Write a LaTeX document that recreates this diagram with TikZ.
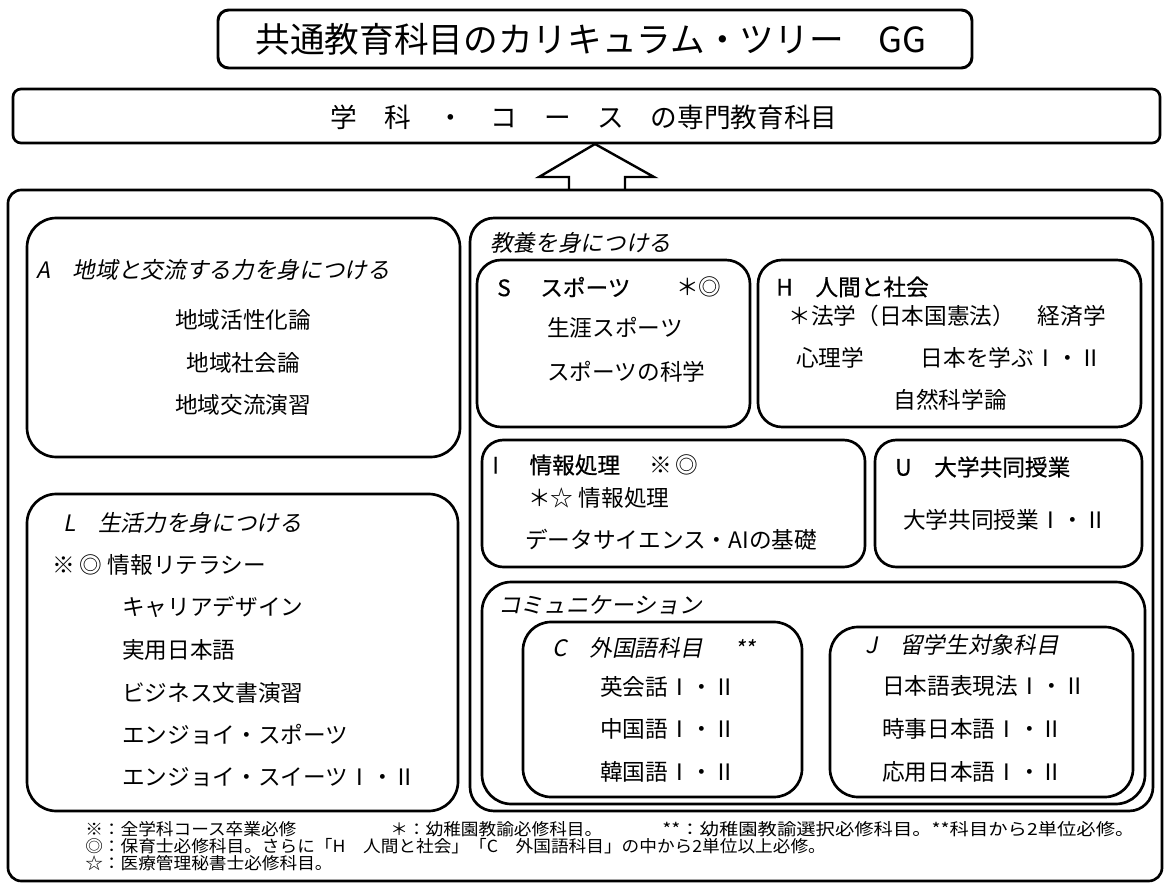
\documentclass[tikz,border=0pt]{standalone}
\usepackage{fontspec}
\setmainfont{Noto Sans CJK JP}
\newfontfamily\jpit[FakeSlant=0.2]{Noto Sans CJK JP}
\newfontfamily\jphd[FakeBold=0.6]{Noto Sans CJK JP}
\newfontfamily\jpnote[FakeStretch=1.06]{Noto Sans CJK JP}
\newfontfamily\jpnotew[FakeStretch=1.16]{Noto Sans CJK JP}

\tikzset{
  roundbox/.style={line width=2pt, rounded corners=#1},
  roundbox/.default=18pt,
  item/.style={inner sep=0pt, font=\fontsize{17}{20}\selectfont},
  itemw/.style={item, anchor=west},
  head/.style={inner sep=0pt, anchor=west, font=\jphd\fontsize{17}{20}\selectfont},
  slanted/.style={inner sep=0pt, anchor=west, font=\jpit\fontsize{17}{20}\selectfont},
  note/.style={inner sep=0pt, anchor=west, font=\jpnote\fontsize{12.5}{15}\selectfont}
}

\begin{document}
\begin{tikzpicture}[x=0.75pt, y=-0.75pt]
  \useasboundingbox (0,0) rectangle (1166,884);

  % title and the course box
  \draw[roundbox=8pt, line width=2.2pt] (218,10) rectangle (972,68);
  \node[font=\fontsize{26}{30}\selectfont] (title) at (591,39) {共通教育科目のカリキュラム・ツリー　GG};
  \draw[roundbox=6pt] (13,89) rectangle (1160,143);
  \node[font=\fontsize{20}{24}\selectfont] (senmon) at (584,117) {学　科　・　コ　ー　ス　の専門教育科目};

  % hollow arrow up to the course box
  \draw[line width=1.8pt, fill=white, line join=miter]
    (569,190) -- (569,177) -- (539,177) -- (595,144) -- (654,177) -- (625,177) -- (625,190);

  % outer frame
  \draw[roundbox=10pt] (8,190) rectangle (1162,881);

  % A
  \draw[roundbox=22pt] (27,218) rectangle (460,457);
  \node[slanted] (Ahd) at (36,270) {A　地域と交流する力を身につける};
  \node[item] (A1) at (243,320) {地域活性化論};
  \node[item] (A2) at (243,363) {地域社会論};
  \node[item] (A3) at (243,405) {地域交流演習};

  % L
  \draw[roundbox=22pt] (27,494) rectangle (458,811);
  \node[slanted] (Lhd) at (63,523) {L　生活力を身につける};
  \node[itemw] (L0) at (52,565) {※ ◎ 情報リテラシー};
  \node[itemw] (L1) at (122,607) {キャリアデザイン};
  \node[itemw] (L2) at (122,650) {実用日本語};
  \node[itemw] (L3) at (122,693) {ビジネス文書演習};
  \node[itemw] (L4) at (122,735) {エンジョイ・スポーツ};
  \node[itemw] (L5) at (122,777) {エンジョイ・スイーツⅠ・Ⅱ};

  % kyoyo
  \draw[roundbox=18pt] (470,218) rectangle (1153,811);
  \node[slanted] (Khd) at (490,243) {教養を身につける};

  % S
  \draw[roundbox=18pt] (477,260) rectangle (750,427);
  \node[head] (Shd) at (497,287) {S\hspace{1.3em}スポーツ};
  \node[itemw] (Smk) at (676,287) {＊◎};
  \node[itemw] (S1) at (547,328) {生涯スポーツ};
  \node[itemw] (S2) at (547,372) {スポーツの科学};

  % H
  \draw[roundbox=18pt] (758,260) rectangle (1141,427);
  \node[head] (Hhd) at (776,287) {H　人間と社会};
  \node[item] (H1) at (947,316) {＊法学（日本国憲法）　経済学};
  \node[item] (H2) at (949,358) {心理学\hspace{2.5em}日本を学ぶⅠ・Ⅱ};
  \node[item] (H3) at (950,400) {自然科学論};

  % I
  \draw[roundbox=16pt] (482,440) rectangle (865,567);
  \node[head] (Ihd) at (492,465) {I\hspace{1.35em}情報処理};
  \node[itemw] (Imk) at (649,465) {※\,◎};
  \node[itemw] (I1) at (528,498) {＊☆ 情報処理};
  \node[itemw] (I2) at (525,540) {データサイエンス・AIの基礎};

  % U
  \draw[roundbox=16pt] (875,440) rectangle (1142,567);
  \node[head] (Uhd) at (895,467) {U　大学共同授業};
  \node[itemw] (U1) at (903,520) {大学共同授業Ⅰ・Ⅱ};

  % communication
  \draw[roundbox=22pt] (482,582) rectangle (1145,804);
  \node[slanted] (Mhd) at (498,605) {コミュニケーション};

  % C
  \draw[roundbox=21pt] (523,622) rectangle (802,797);
  \node[slanted] (Chd) at (552,648) {C　外国語科目};
  \node[slanted] (Cmk) at (734,648) {**};
  \node[itemw] (C1) at (600,687) {英会話Ⅰ・Ⅱ};
  \node[itemw] (C2) at (600,729) {中国語Ⅰ・Ⅱ};
  \node[itemw] (C3) at (600,772) {韓国語Ⅰ・Ⅱ};

  % J
  \draw[roundbox=21pt] (830,627) rectangle (1133,797);
  \node[slanted] (Jhd) at (865,645) {J　留学生対象科目};
  \node[itemw] (J1) at (882,686) {日本語表現法Ⅰ・Ⅱ};
  \node[itemw] (J2) at (882,729) {時事日本語Ⅰ・Ⅱ};
  \node[itemw] (J3) at (882,772) {応用日本語Ⅰ・Ⅱ};

  % notes
  \node[note] (n1) at (85,829) {※：全学科コース卒業必修};
  \node[note] (n2) at (390,829) {＊：幼稚園教諭必修科目。};
  \node[note, font=\jpnotew\fontsize{12.5}{15}\selectfont] (n3) at (662,829) {**：幼稚園教諭選択必修科目。**科目から2単位必修。};
  \node[note] (n4) at (85,846) {◎：保育士必修科目。さらに「H　人間と社会」「C　外国語科目」の中から2単位以上必修。};
  \node[note] (n5) at (85,863) {☆：医療管理秘書士必修科目。};
\end{tikzpicture}
\end{document}
